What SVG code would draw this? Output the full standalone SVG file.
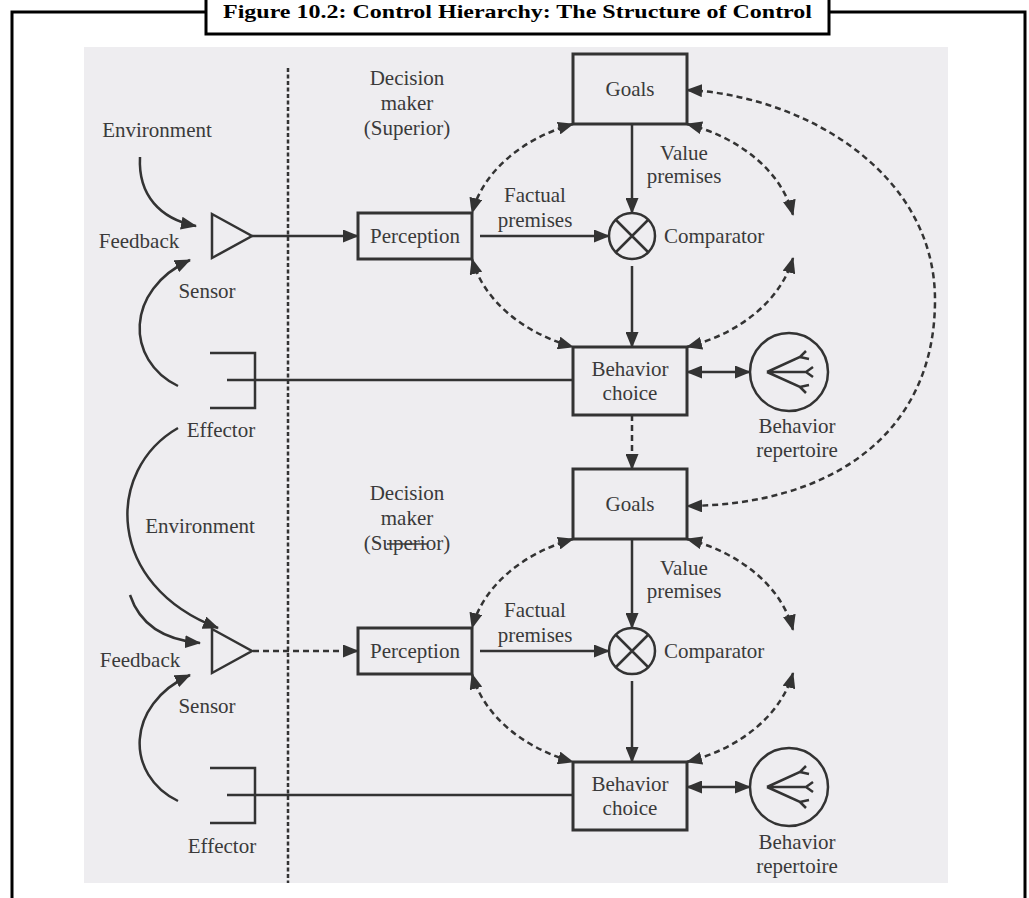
<svg xmlns="http://www.w3.org/2000/svg" width="1029" height="898" viewBox="0 0 1029 898">
  <style>
    .t{font-family:"Liberation Serif","Times New Roman",serif;font-size:21px;fill:#3a3a3a;text-anchor:middle}
    .ts{text-anchor:start}
    .title{font-family:"Liberation Serif","Times New Roman",serif;font-size:19px;font-weight:bold;fill:#000}
    .frame{stroke:#000;stroke-width:3;fill:none}
    .box{fill:none;stroke:#333;stroke-width:3}
    .ln{stroke:#333;stroke-width:2.5;fill:none}
    .dash{stroke-dasharray:6 4}
    .dot{stroke:#333;stroke-width:2.5;stroke-dasharray:4 2.5;fill:none}
    .arr{marker-end:url(#ah)}
    .arr2{marker-start:url(#ah);marker-end:url(#ah)}
  </style>
  <defs>
    <marker id="ah" viewBox="0 0 16 13" refX="15" refY="6.5" markerWidth="16" markerHeight="13" markerUnits="userSpaceOnUse" orient="auto-start-reverse">
      <path d="M0,0 L16,6.5 L0,13 z" fill="#333"/>
    </marker>
  </defs>

  <!-- page and scanned figure area -->
  <rect width="1029" height="898" fill="#fff"/>
  <rect x="84" y="47" width="864" height="836" fill="#eeedf0"/>

  <!-- outer frame with caption box -->
  <g id="frame">
    <path class="frame" d="M12,898 V12 H206 M829,12 H1025 V898"/>
    <rect x="206" y="-3" width="623" height="37" fill="#fff" stroke="#000" stroke-width="3"/>
    <text class="title" x="223" y="18" textLength="589" lengthAdjust="spacingAndGlyphs">Figure 10.2: Control Hierarchy: The Structure of Control</text>
  </g>

  <!-- boundary between environment and decision maker -->
  <line id="boundary" class="dot" x1="288" y1="68" x2="288" y2="883"/>

  <!-- ===== upper level ===== -->
  <g id="decision-maker-1">
    <text class="t" x="407" y="85">Decision</text>
    <text class="t" x="407" y="110">maker</text>
    <text class="t" x="407" y="135">(Superior)</text>
  </g>
  <g id="environment-1"><text class="t" x="157" y="137">Environment</text></g>
  <g id="feedback-1"><text class="t" x="139" y="248">Feedback</text></g>
  <g id="sensor-1">
    <path class="ln" d="M212,214 V258 L252,236 Z"/>
    <text class="t" x="207" y="298">Sensor</text>
  </g>
  <g id="effector-1">
    <path class="ln" d="M210,353 H255 V408 H210"/>
    <text class="t" x="221" y="437">Effector</text>
  </g>
  <g id="perception-1">
    <rect class="box" x="358" y="213" width="114" height="46"/>
    <text class="t" x="415" y="243">Perception</text>
  </g>
  <g id="goals-1">
    <rect class="box" x="573" y="54" width="114" height="70"/>
    <text class="t" x="630" y="96">Goals</text>
  </g>
  <g id="comparator-1">
    <circle class="ln" cx="632" cy="236" r="23"/>
    <path class="ln" d="M616,220 L648,252 M648,220 L616,252"/>
    <text class="t ts" x="664" y="243">Comparator</text>
  </g>
  <g id="value-premises-1">
    <text class="t" x="684" y="160">Value</text>
    <text class="t" x="684" y="183">premises</text>
  </g>
  <g id="factual-premises-1">
    <text class="t" x="535" y="202">Factual</text>
    <text class="t" x="535" y="227">premises</text>
  </g>
  <g id="behavior-choice-1">
    <rect class="box" x="573" y="347" width="114" height="68"/>
    <text class="t" x="630" y="376">Behavior</text>
    <text class="t" x="630" y="400">choice</text>
  </g>
  <g id="behavior-repertoire-1">
    <circle class="ln" cx="789" cy="372" r="39"/>
    <path class="ln" d="M767,372 L800,357 L806,351 M800,357 L809,359 M767,372 L806,372 L813,367 M806,372 L813,377 M767,372 L800,387 L809,385 M800,387 L806,393"/>
    <text class="t" x="797" y="433">Behavior</text>
    <text class="t" x="797" y="457">repertoire</text>
  </g>

  <!-- ===== lower level ===== -->
  <g id="decision-maker-2">
    <text class="t" x="407" y="500">Decision</text>
    <text class="t" x="407" y="525">maker</text>
    <text class="t" x="407" y="550">(Superior)</text>
    <line x1="387" y1="544" x2="427" y2="544" stroke="#3a3a3a" stroke-width="1.6"/>
  </g>
  <g id="environment-2"><text class="t" x="200" y="533">Environment</text></g>
  <g id="feedback-2"><text class="t" x="140" y="667">Feedback</text></g>
  <g id="sensor-2">
    <path class="ln" d="M212,629 V673 L252,651 Z"/>
    <text class="t" x="207" y="713">Sensor</text>
  </g>
  <g id="effector-2">
    <path class="ln" d="M210,768 H255 V823 H210"/>
    <text class="t" x="222" y="853">Effector</text>
  </g>
  <g id="perception-2">
    <rect class="box" x="358" y="628" width="114" height="46"/>
    <text class="t" x="415" y="658">Perception</text>
  </g>
  <g id="goals-2">
    <rect class="box" x="573" y="469" width="114" height="70"/>
    <text class="t" x="630" y="511">Goals</text>
  </g>
  <g id="comparator-2">
    <circle class="ln" cx="632" cy="651" r="23"/>
    <path class="ln" d="M616,635 L648,667 M648,635 L616,667"/>
    <text class="t ts" x="664" y="658">Comparator</text>
  </g>
  <g id="value-premises-2">
    <text class="t" x="684" y="575">Value</text>
    <text class="t" x="684" y="598">premises</text>
  </g>
  <g id="factual-premises-2">
    <text class="t" x="535" y="617">Factual</text>
    <text class="t" x="535" y="642">premises</text>
  </g>
  <g id="behavior-choice-2">
    <rect class="box" x="573" y="762" width="114" height="68"/>
    <text class="t" x="630" y="791">Behavior</text>
    <text class="t" x="630" y="815">choice</text>
  </g>
  <g id="behavior-repertoire-2">
    <circle class="ln" cx="789" cy="787" r="39"/>
    <path class="ln" d="M767,787 L800,772 L806,766 M800,772 L809,774 M767,787 L806,787 L813,782 M806,787 L813,792 M767,787 L800,802 L809,800 M800,802 L806,808"/>
    <text class="t" x="797" y="849">Behavior</text>
    <text class="t" x="797" y="873">repertoire</text>
  </g>

  <!-- ===== connectors ===== -->
  <g id="connectors">
    <!-- upper level -->
    <path class="ln arr" d="M140,157 C138,195 160,219 196,226"/>
    <path class="ln arr" d="M178,386 C125,360 125,290 190,260"/>
    <path class="ln arr" d="M252,236 H358"/>
    <path class="ln" d="M227,380 H573"/>
    <path class="ln arr" d="M480,236 H609"/>
    <path class="ln arr" d="M632,124 V213"/>
    <path class="ln arr" d="M632,266 V347"/>
    <path class="ln arr2" d="M687,372 H750"/>
    <path class="ln dash arr2" d="M573,124 A163,120 0 0 0 472,213"/>
    <path class="ln dash arr2" d="M687,124 A163,120 0 0 1 793,215"/>
    <path class="ln dash arr2" d="M793,258 A163,120 0 0 1 687,347"/>
    <path class="ln dash arr2" d="M472,259 A163,120 0 0 0 573,347"/>
    <!-- between levels -->
    <path class="ln dash arr" d="M632,415 V469"/>
    <path class="ln dash arr2" d="M687,90 C800,95 935,170 935,300 C935,435 830,505 687,506"/>
    <path class="ln arr" d="M178,428 C105,470 105,585 218,628"/>
    <!-- lower level -->
    <path class="ln arr" d="M130,595 C140,625 165,640 200,643"/>
    <path class="ln arr" d="M178,801 C125,775 125,705 190,675"/>
    <path class="ln dash arr" d="M253,651 H358"/>
    <path class="ln" d="M227,795 H573"/>
    <path class="ln arr" d="M480,651 H609"/>
    <path class="ln arr" d="M632,539 V628"/>
    <path class="ln arr" d="M632,681 V762"/>
    <path class="ln arr2" d="M687,787 H750"/>
    <path class="ln dash arr2" d="M573,539 A163,120 0 0 0 472,628"/>
    <path class="ln dash arr2" d="M687,539 A163,120 0 0 1 793,630"/>
    <path class="ln dash arr2" d="M793,673 A163,120 0 0 1 687,762"/>
    <path class="ln dash arr2" d="M472,674 A163,120 0 0 0 573,762"/>
  </g>
</svg>
